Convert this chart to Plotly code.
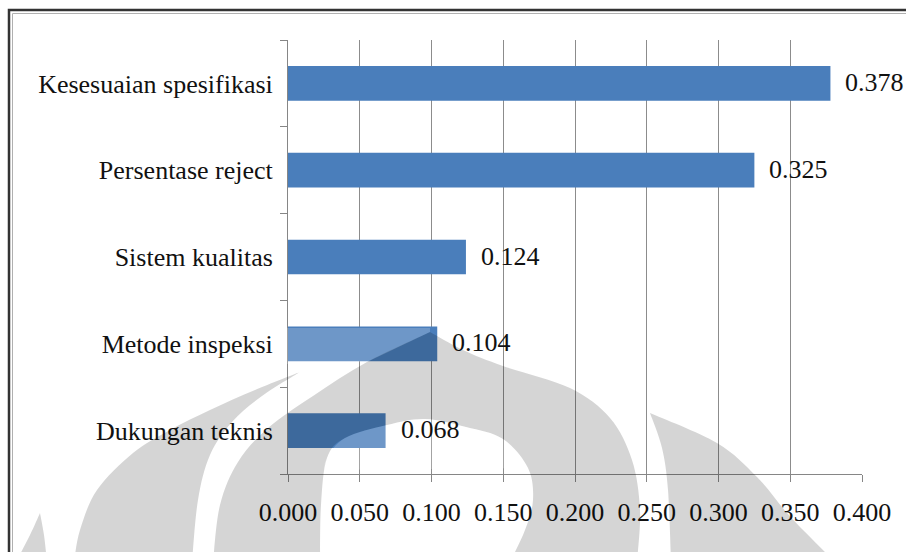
import plotly.graph_objects as go

# Priority weights of the supplier-quality criteria
categories = [
    "Kesesuaian spesifikasi",
    "Persentase reject",
    "Sistem kualitas",
    "Metode inspeksi",
    "Dukungan teknis",
]
weights = [0.378, 0.325, 0.124, 0.104, 0.068]

x_tick_values = [0.0, 0.05, 0.10, 0.15, 0.20, 0.25, 0.30, 0.35, 0.40]
x_tick_labels = ["0.000", "0.050", "0.100", "0.150", "0.200", "0.250", "0.300", "0.350", "0.400"]

W, H = 906, 552
ML, MR, MT, MB = 288, 44, 40, 78
PW, PH = W - ML - MR, H - MT - MB

FONT = "Liberation Serif, Times New Roman, serif"
BAR = "#4a7ebb"
GRID = "#8c8c8c"


def to_paper(p):
    x, y = p
    return (x - ML) / PW, (H - MB - y) / PH


def curve(pts, move=True):
    """Smooth Catmull-Rom curve through pixel points, as SVG path text in paper units."""
    P = [to_paper(p) for p in pts]
    out = ("M" if move else "L") + f"{P[0][0]:.5f},{P[0][1]:.5f}"
    for i in range(len(P) - 1):
        p0 = P[i - 1] if i > 0 else P[i]
        p1, p2 = P[i], P[i + 1]
        p3 = P[i + 2] if i + 2 < len(P) else P[i + 1]
        c1 = (p1[0] + (p2[0] - p0[0]) / 6, p1[1] + (p2[1] - p0[1]) / 6)
        c2 = (p2[0] - (p3[0] - p1[0]) / 6, p2[1] - (p3[1] - p1[1]) / 6)
        out += f" C{c1[0]:.5f},{c1[1]:.5f} {c2[0]:.5f},{c2[1]:.5f} {p2[0]:.5f},{p2[1]:.5f}"
    return out


def poly(pts):
    P = [to_paper(p) for p in pts]
    return "M" + " L".join(f"{x:.5f},{y:.5f}" for x, y in P) + " Z"


# Background emblem outlines (pixel positions on the page)
g1 = curve([(40, 513), (30, 535), (16, 562)]) + " " + curve([(47, 562), (44, 535), (40, 513)], move=False) + " Z"

g2_outer = [(74, 562), (80, 530), (97, 490), (133, 453), (170, 430), (210, 410), (255, 390), (300, 372)]
g2_inner = [(300, 372), (262, 396), (232, 422), (210, 455), (198, 500), (192, 562)]
g2 = curve(g2_outer) + " " + curve(g2_inner, move=False) + " Z"

g3_left = [(213, 562), (220, 505), (238, 462), (268, 428), (313, 396), (367, 362), (430, 332)]
g3_right = [(430, 332), (463, 350), (503, 366), (570, 388), (610, 418), (632, 460), (640, 510), (637, 562)]
hole = [(320, 562), (321, 505), (327, 458), (345, 438), (387, 425), (425, 419), (466, 427),
        (503, 439), (528, 468), (533, 500), (525, 530), (510, 562)]
g3 = curve(g3_left) + " " + curve(g3_right, move=False) + " Z " + curve(hole) + " Z"

g4_left = [(650, 413), (662, 448), (668, 490), (671, 562)]
g4_right = [(835, 562), (813, 540), (787, 513), (757, 477), (717, 443), (650, 413)]
g4 = curve(g4_left) + " " + curve(g4_right, move=False) + " Z"

# Lighter parts of the emblem, only noticeable where they pass over the bars
band = poly([(286, 364), (367, 362), (430, 332), (430, 328), (286, 328)])
hole_top = curve([(324, 470), (327, 458), (345, 438), (387, 425), (425, 419), (466, 427),
                  (503, 439), (528, 468)]) + " Z"

shade = "rgba(0,0,0,0.165)"
light = "rgba(255,255,255,0.2)"

shapes = []
for path in (g1, g2, g4):
    shapes.append(dict(type="path", path=path, xref="paper", yref="paper",
                       fillcolor=shade, line=dict(width=0), layer="above"))
shapes.append(dict(type="path", path=g3, xref="paper", yref="paper", fillrule="evenodd",
                   fillcolor=shade, line=dict(width=0), layer="above"))
for path in (band, hole_top):
    shapes.append(dict(type="path", path=path, xref="paper", yref="paper",
                       fillcolor=light, line=dict(width=0), layer="above"))

# Chart frame
fx0, fy0 = to_paper((9, 10))
fx1, fy1 = to_paper((W + 20, H + 20))
shapes.append(dict(type="rect", xref="paper", yref="paper", x0=fx0, y0=fy0, x1=fx1, y1=fy1,
                   line=dict(color="#333333", width=2.5), fillcolor="rgba(0,0,0,0)", layer="below"))
ix0, iy0 = to_paper((12.5, 13.5))
shapes.append(dict(type="rect", xref="paper", yref="paper", x0=ix0, y0=iy0, x1=fx1, y1=fy1,
                   line=dict(color="#b0b0b0", width=1), fillcolor="rgba(0,0,0,0)", layer="below"))

fig = go.Figure(
    go.Bar(
        x=weights,
        y=categories,
        orientation="h",
        marker=dict(color=BAR, line=dict(width=0)),
        hoverinfo="skip",
    )
)

annotations = [
    dict(x=v, y=c, xref="x", yref="y", text=f"{v:.3f}", showarrow=False,
         xanchor="left", yanchor="middle", xshift=13, yshift=1,
         font=dict(family=FONT, size=26, color="#111111"))
    for c, v in zip(categories, weights)
]

fig.update_layout(
    width=W,
    height=H,
    margin=dict(l=ML, r=MR, t=MT, b=MB, pad=0),
    paper_bgcolor="white",
    plot_bgcolor="white",
    bargap=0.6,
    showlegend=False,
    shapes=shapes,
    annotations=annotations,
    font=dict(family=FONT, size=26, color="#111111"),
)

fig.update_xaxes(
    range=[0, 0.4],
    tickvals=x_tick_values,
    ticktext=x_tick_labels,
    showgrid=True,
    gridcolor=GRID,
    gridwidth=1,
    zeroline=False,
    showline=True,
    linecolor="#868686",
    linewidth=1,
    ticks="outside",
    ticklen=7,
    tickcolor="#868686",
    ticklabelstandoff=8,
    tickfont=dict(family=FONT, size=26, color="#111111"),
)

fig.update_yaxes(
    type="category",
    categoryorder="array",
    categoryarray=list(reversed(categories)),
    showgrid=False,
    zeroline=False,
    showline=True,
    linecolor="#868686",
    linewidth=1,
    ticks="outside",
    tickson="boundaries",
    ticklen=7,
    tickcolor="#868686",
    ticklabelstandoff=9,
    tickfont=dict(family=FONT, size=26, color="#111111"),
)

fig.write_html("out.html")
